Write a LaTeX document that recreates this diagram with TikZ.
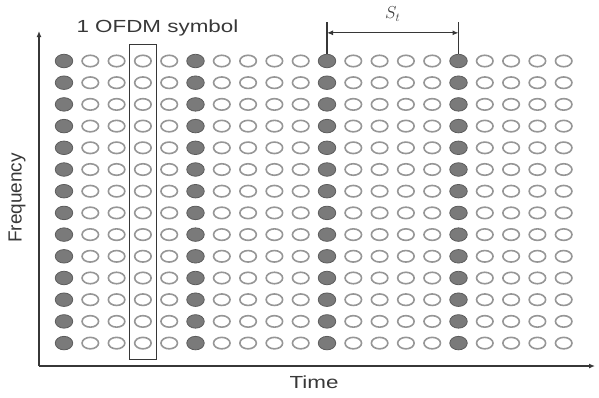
\documentclass[tikz,border=0pt]{standalone}
\usepackage{fontspec}
\setmainfont{Liberation Sans}
\usetikzlibrary{arrows.meta,calc,positioning,shapes.geometric,fit}
\definecolor{pilotgray}{RGB}{122,122,122}
\definecolor{pilotedge}{RGB}{92,92,92}
\definecolor{datagray}{RGB}{150,150,150}
\definecolor{axisgray}{RGB}{55,55,55}

\begin{document}
\begin{tikzpicture}[x=1pt,y=-1pt,>={Latex[length=6pt,width=5pt]},
  data/.style={ellipse,draw=datagray,line width=1.6pt,fill=white,minimum width=16.5pt,minimum height=11.5pt,inner sep=0pt},
  pilot/.style={data,draw=pilotedge,fill=pilotgray,line width=0.8pt,minimum width=17.5pt,minimum height=13.5pt},
  lbl/.style={font=\fontsize{17.5}{20}\selectfont,text=black!78},
  wide/.style={lbl,xscale=1.28},
  axis/.style={axisgray,line width=1.4pt}]
  \useasboundingbox (0,0) rectangle (599,397);
  \foreach \i in {1,...,20}{
    \foreach \j in {1,...,14}{
      \pgfmathtruncatemacro\kind{mod(\i-1,5)}
      \ifnum\kind=0
        \node[pilot] (c-\i-\j) at ({64+(\i-1)*26.3},{61+(\j-1)*21.7}) {};
      \else
        \node[data] (c-\i-\j) at ({64+(\i-1)*26.3},{61+(\j-1)*21.7}) {};
      \fi
    }
  }
  \coordinate (orig) at (39,366);
  \coordinate (ytip) at (39,31);
  \coordinate (xtip) at (595,366);
  \draw[axis,->] (orig) -- (ytip);
  \draw[axis,->] (orig) -- (xtip);
  \node[fit=(c-4-1)(c-4-14),draw=axisgray,line width=1.1pt,inner xsep=4.5pt,inner ysep=10pt] (sym) {};
  \node[wide,anchor=west] (symlbl) at (72,28) {1 OFDM symbol};
  \node[lbl,font=\fontsize{19}{21}\selectfont,rotate=90] (freq) at (17,198) {Frequency};
  \node[wide] (time) at (314,382) {Time};
  \path (c-11-1.north) ++(0,-32) coordinate (d1top);
  \path (c-16-1.north) ++(0,-32) coordinate (d2top);
  \path (c-11-1.north) ++(0,-21) coordinate (d1);
  \path (c-16-1.north) ++(0,-21) coordinate (d2);
  \draw[axisgray,line width=1.1pt] (c-11-1.north) -- (d1top);
  \draw[axisgray,line width=1.1pt] (c-16-1.north) -- (d2top);
  \draw[axisgray,line width=1.1pt,<->] (d1) -- (d2) node[midway,above=11pt,inner sep=0pt,font=\fontsize{17}{19}\selectfont,text=black!78] (st) {$S_t$};
\end{tikzpicture}
\end{document}
